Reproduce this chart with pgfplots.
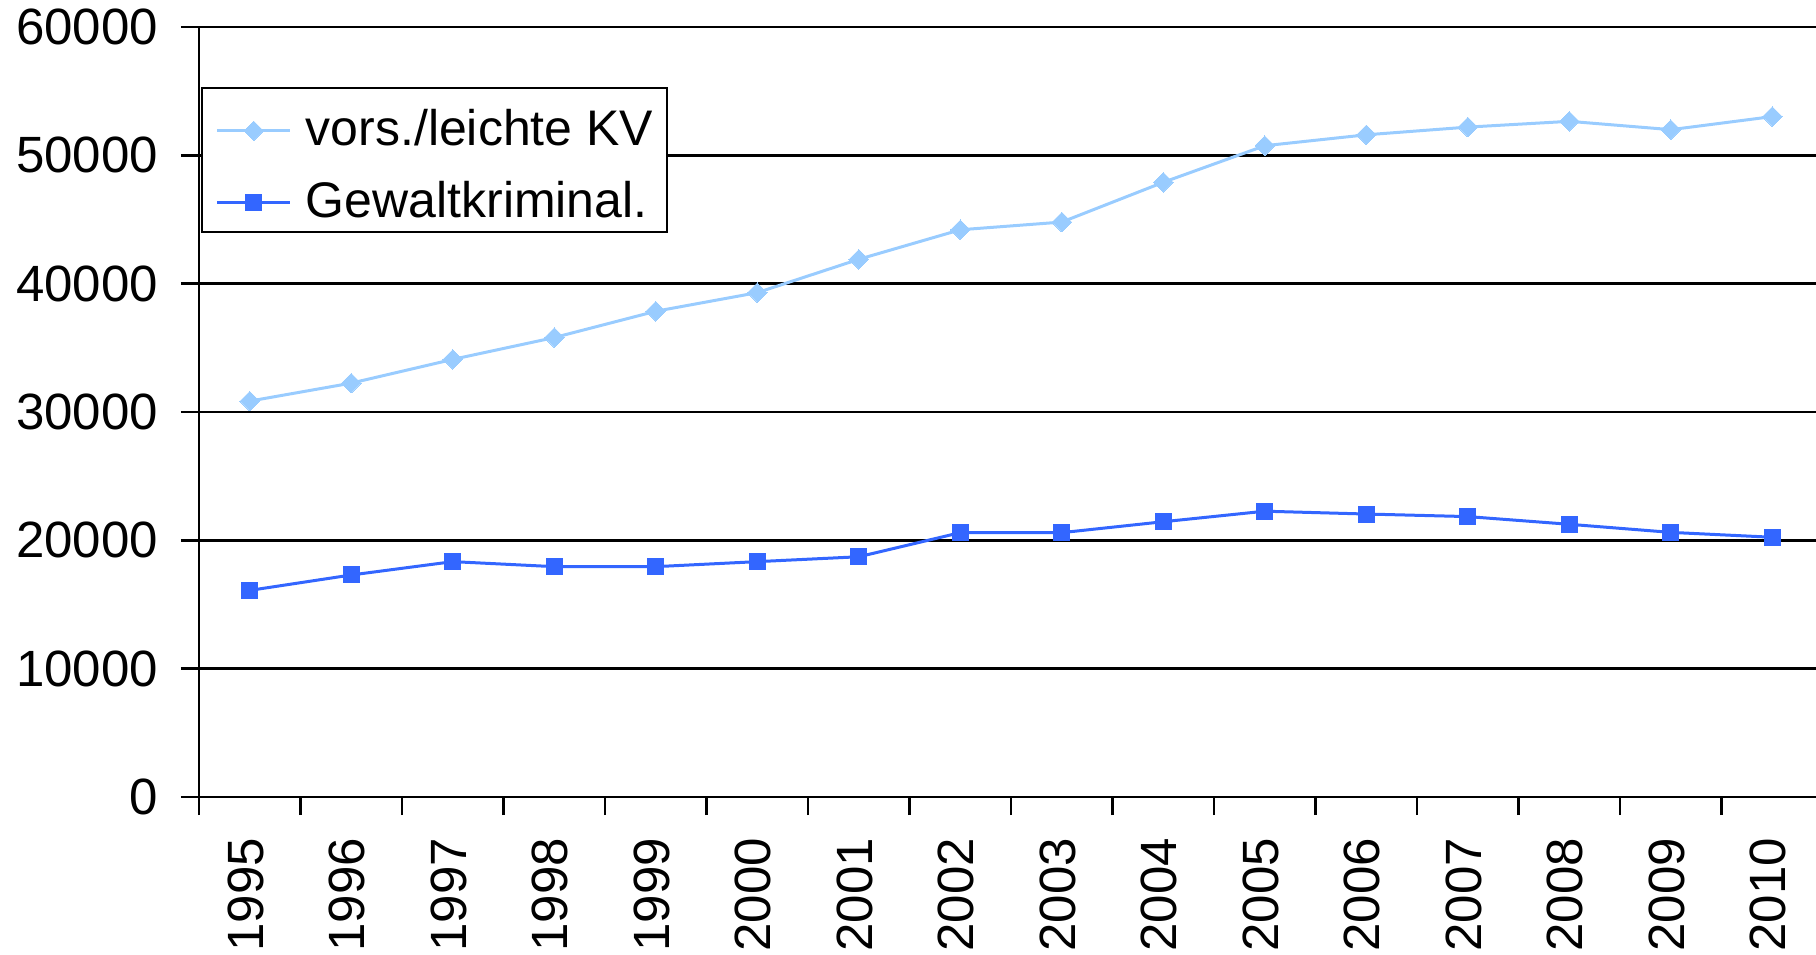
\documentclass[border=0pt]{standalone}
\usepackage{pgfplots}
\pgfplotsset{compat=1.18}
\usepackage{fontspec}
\setmainfont{Liberation Sans}
\definecolor{lightser}{RGB}{153,204,255}
\definecolor{darkser}{RGB}{51,102,255}
\begin{document}
\begin{tikzpicture}
\begin{axis}[
  scale only axis, width=808.5pt, height=385pt,
  xmin=-0.5, xmax=15.43, ymin=0, ymax=60000,
  axis x line=bottom, axis y line=left,
  axis line style={-, line width=1.3pt, black},
  font=\fontsize{25.5}{30}\selectfont,
  /pgf/number format/assume math mode=true,
  ytick={0,10000,...,60000},
  ymajorgrids, major grid style={black, line width=1.35pt},
  scaled y ticks=false,
  yticklabel style={/pgf/number format/1000 sep={}, xshift=-8pt},
  xtick={-0.5,0.5,...,14.5},
  xticklabels={},
  extra x ticks={0,...,15},
  extra x tick labels={1995,1996,1997,1998,1999,2000,2001,2002,2003,2004,2005,2006,2007,2008,2009,2010},
  extra x tick style={major tick length=0pt, tick style={draw=none},
     xticklabel style={rotate=90, anchor=east, xshift=-17pt, yshift=2pt}},
  tick align=outside, major tick length=9pt,
  tick style={black, line width=1.2pt},
  legend image code/.code={\draw[mark repeat=2,mark phase=2,#1] plot coordinates {(0pt,7.5pt) (18.25pt,7.5pt) (36.5pt,7.5pt)};},
  legend style={at={(axis description cs:0.00124,0.922)}, anchor=north west,
    draw=black, line width=0.8pt, inner xsep=7pt, inner ysep=0pt,
    row sep=0pt, column sep=7pt,
    font=\fontsize{25}{30}\selectfont,
    nodes={inner sep=0pt, text height=29pt, text depth=7pt, anchor=base west}},
  clip=false,
]
\addplot[color=lightser, line width=1.5pt, mark=diamond*, mark size=4.9pt,
  mark options={solid, fill=lightser, draw=lightser, line width=0pt, xscale=1.333}]
coordinates {(0,30850) (1,32250) (2,34100) (3,35800) (4,37850) (5,39300) (6,41900) (7,44200)
 (8,44800) (9,47900) (10,50750) (11,51600) (12,52200) (13,52650) (14,52000) (15,53020)};
\addlegendentry{vors./leichte KV}
\addplot[color=darkser, line width=1.5pt, mark=square*, mark size=4pt,
  mark options={solid, fill=darkser, draw=darkser, line width=0pt}]
coordinates {(0,16100) (1,17300) (2,18340) (3,17950) (4,17950) (5,18340) (6,18720) (7,20600)
 (8,20600) (9,21450) (10,22270) (11,22050) (12,21850) (13,21250) (14,20620) (15,20240)};
\addlegendentry{Gewaltkriminal.}
\end{axis}
\pgfresetboundingbox
\path[use as bounding box] (-99.5pt,-78.5pt) rectangle (808.5pt,398.5pt);
\end{tikzpicture}
\end{document}
